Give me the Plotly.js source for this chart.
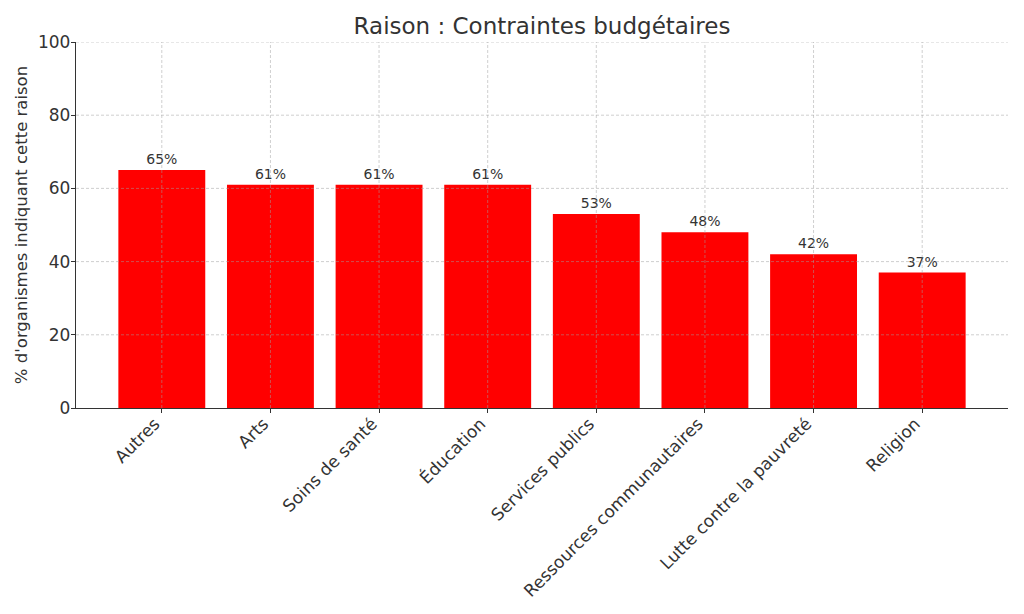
<!DOCTYPE html>
<html>
<head>
<meta charset="utf-8">
<script src="https://cdn.plot.ly/plotly-3.0.1.min.js"></script>
<style>html,body{margin:0;padding:0;background:#fff;}#chart{width:1024px;height:614px;}</style>
</head>
<body>
<div id="chart"></div>
<script>
var categories = ["Autres", "Arts", "Soins de santé", "Éducation", "Services publics", "Ressources communautaires", "Lutte contre la pauvreté", "Religion"];
var values = [65, 61, 61, 61, 53, 48, 42, 37];
var yTicks = [0, 20, 40, 60, 80, 100];
var barLabels = values.map(function(v){ return v + "%"; });

var font = "DejaVu Sans, sans-serif";
var gridStyle = {color: "rgba(160,160,160,0.5)", width: 1, dash: "3px,2px"};

var shapes = [];
yTicks.forEach(function(t){
  if (t === 0) return;
  shapes.push({type: "line", xref: "paper", yref: "y", x0: 0, x1: 1, y0: t, y1: t, line: gridStyle, layer: "above"});
});
categories.forEach(function(c){
  shapes.push({type: "line", xref: "x", yref: "paper", x0: c, x1: c, y0: 0, y1: 1, line: gridStyle, layer: "above"});
});

var trace = {
  type: "bar",
  x: categories,
  y: values,
  marker: {color: "#ff0000"},
  text: barLabels,
  textposition: "outside",
  cliponaxis: false,
  textfont: {family: font, size: 14, color: "#333333"},
  hoverinfo: "skip"
};
var layout = {
  width: 1024, height: 614,
  margin: {l: 76, r: 16, t: 42, b: 206},
  paper_bgcolor: "#ffffff",
  plot_bgcolor: "#ffffff",
  bargap: 0.2,
  showlegend: false,
  shapes: shapes,
  title: {text: "Raison : Contraintes budgétaires", font: {family: font, size: 23, color: "#333333"}, x: 0.5, xanchor: "center", y: 0.958, yanchor: "middle", xref: "paper"},
  xaxis: {
    type: "category",
    range: [-0.79, 7.79],
    tickangle: -45,
    tickfont: {family: font, size: 17, color: "#333333"},
    ticklabelstandoff: -6,
    ticklabelshift: -7,
    showgrid: false,
    showline: true, linecolor: "#333333", linewidth: 1.2,
    ticks: "outside", ticklen: 4, tickcolor: "#333333",
    zeroline: false
  },
  yaxis: {
    range: [0, 100],
    tickvals: yTicks,
    tickfont: {family: font, size: 17, color: "#333333"},
    ticklabelstandoff: -3,
    showgrid: false,
    showline: true, linecolor: "#333333", linewidth: 1.2,
    ticks: "outside", ticklen: 4, tickcolor: "#333333",
    zeroline: false,
    title: {text: "% d'organismes indiquant cette raison", font: {family: font, size: 16.5, color: "#333333"}, standoff: 6}
  }
};
Plotly.newPlot("chart", [trace], layout, {displayModeBar: false, staticPlot: true});
</script>
</body>
</html>
